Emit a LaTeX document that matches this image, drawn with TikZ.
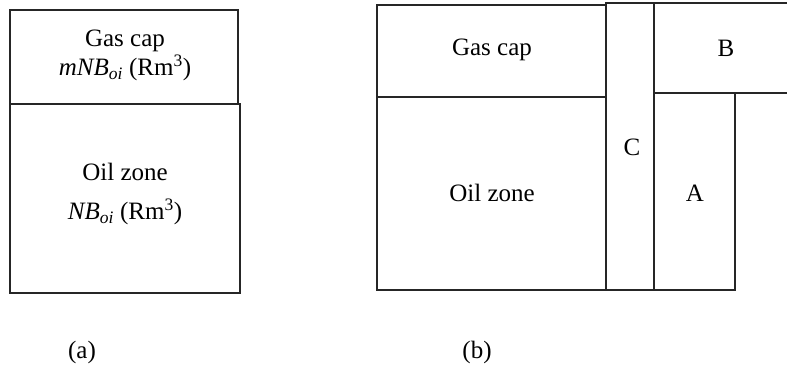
\documentclass[tikz,border=0pt]{standalone}
\usepackage{fontspec}
\setmainfont{Liberation Serif}
\begin{document}
\begin{tikzpicture}[x=1pt,y=-1pt,
  box/.style={draw=black!85,line width=1.5pt},
  lbl/.style={font=\fontsize{25}{28}\selectfont,inner sep=0pt,anchor=center}]
\useasboundingbox (0,0) rectangle (787,365);
% (a)
\draw[box] (10,10) rectangle (238,104);
\draw[box] (10,104) rectangle (240,293);
\node[lbl] (ga) at (125,41) {Gas cap};
\node[lbl] (gav) at (125,68) {\textit{mNB}\textsubscript{\textit{oi}} (Rm\textsuperscript{3})};
\node[lbl] (oa) at (125,172) {Oil zone};
\node[lbl] (oav) at (125,212) {\textit{NB}\textsubscript{\textit{oi}} (Rm\textsuperscript{3})};
% (b)
\draw[box] (377,5) rectangle (606,97);
\draw[box] (377,97) rectangle (606,290);
\draw[box] (606,3) rectangle (654,290);
\draw[box] (790,3) -- (654,3) -- (654,93) -- (790,93);
\draw[box] (654,93) rectangle (735,290);
\node[lbl] (gb) at (492,50) {Gas cap};
\node[lbl] (ob) at (492,193) {Oil zone};
\node[lbl] (c) at (632,147) {C};
\node[lbl] (a) at (695,193) {A};
\node[lbl] (b) at (726,48) {B};
% captions
\node[lbl] (capa) at (82,352) {(a)};
\node[lbl] (capb) at (477,352) {(b)};
\end{tikzpicture}
\end{document}
